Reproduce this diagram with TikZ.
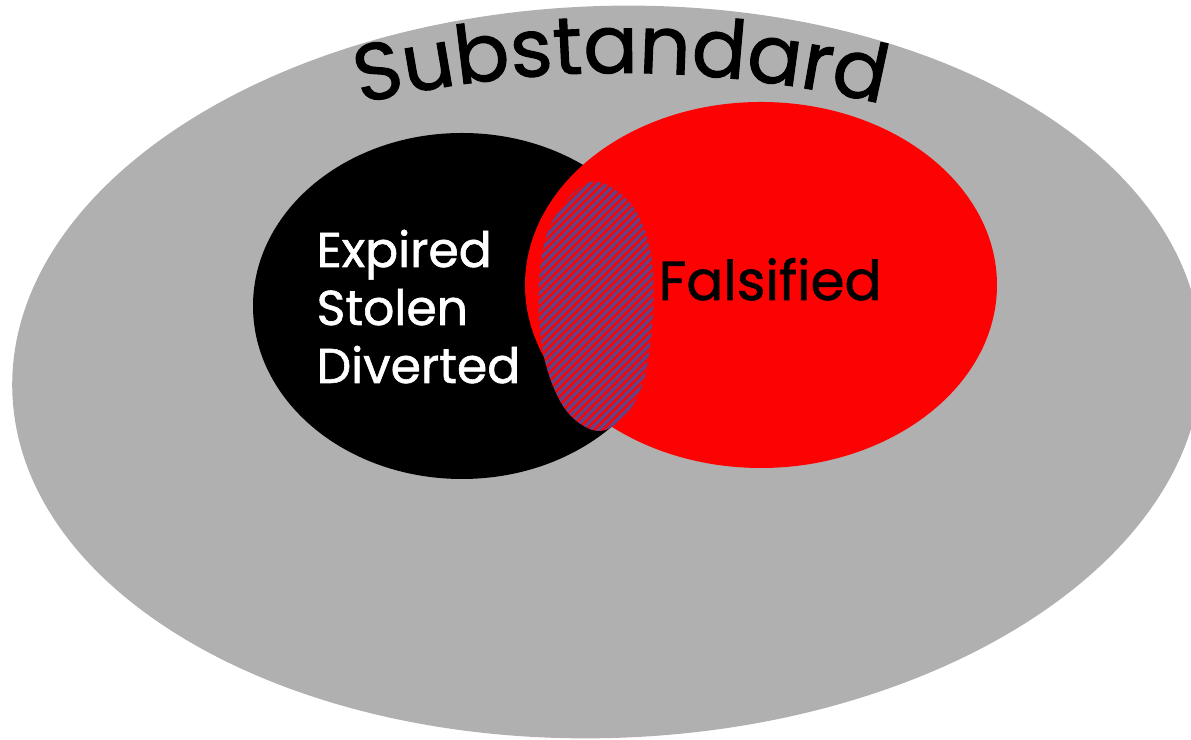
\documentclass[tikz,border=0pt]{standalone}
\usepackage{fontspec}
\usetikzlibrary{decorations.text}
\newfontfamily\cartoonfont{Poppins}[FakeBold=1.2]
\definecolor{setgray}{RGB}{176,176,176}
\definecolor{setred}{RGB}{253,2,2}
\definecolor{hatchline}{RGB}{100,66,134}
\tikzset{
  whitelabel/.style={anchor=base west, inner sep=0pt, text=white,
    font=\cartoonfont\fontsize{13.9pt}{16pt}\selectfont},
  blacklabel/.style={anchor=base west, inner sep=0pt, text=black,
    font=\cartoonfont\fontsize{15.6pt}{19pt}\selectfont},
}
\begin{document}
\begin{tikzpicture}
\useasboundingbox (0,0) rectangle (11.91,-7.40);
\clip (0,0) rectangle (11.91,-7.40);

% outer set
\fill[setgray, rotate around={2:(6.07,-3.72)}] (6.07,-3.72) ellipse [x radius=5.95cm, y radius=3.66cm];

% the two inner sets
\fill[black] (4.62,-3.06) ellipse [x radius=2.09cm, y radius=1.73cm];
\fill[setred] (7.61,-2.85) ellipse [x radius=2.36cm, y radius=1.83cm];

% hatched overlap
\def\overlapshape{plot[smooth cycle, tension=0.6] coordinates {
  (5.90,-1.82) (6.30,-2.03) (6.50,-2.50) (6.53,-3.10) (6.45,-3.75)
  (6.28,-4.12) (6.00,-4.31) (5.70,-4.15) (5.50,-3.78) (5.40,-3.30)
  (5.40,-2.70) (5.53,-2.20)}}
\fill[setred] \overlapshape;
\begin{scope}
  \clip \overlapshape;
  \foreach \k in {0,...,46}
    \draw[hatchline, line width=0.95pt] ({2.74+0.085*\k},-4.40) -- ++(2.70,2.70);
\end{scope}

% title along an arc
\path[decorate, decoration={text along path, text align=center,
  text={|\cartoonfont\fontsize{23pt}{28pt}\selectfont|Substandard}}]
  (3.52,-1.06) arc[start angle=104, end angle=76, radius=11.12cm];

% labels
\node[whitelabel] (expired) at (3.16,-2.67) {Expired};
\node[whitelabel] (stolen) at (3.16,-3.25) {Stolen};
\node[whitelabel] (diverted) at (3.16,-3.83) {Diverted};
\node[blacklabel] (falsified) at (6.58,-3.00) {Falsified};
\end{tikzpicture}
\end{document}
